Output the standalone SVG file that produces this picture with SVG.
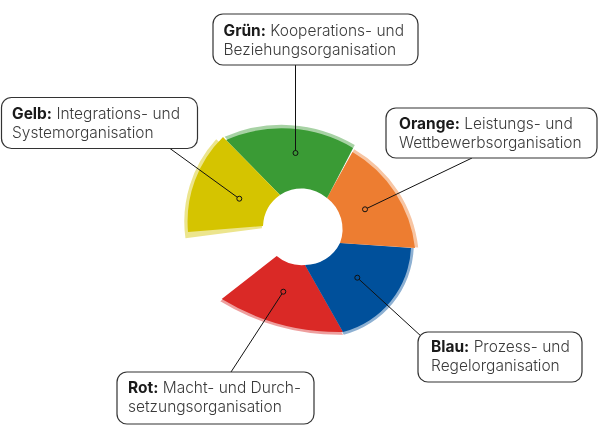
<svg xmlns="http://www.w3.org/2000/svg" xmlns:xlink="http://www.w3.org/1999/xlink" width="600" height="431" viewBox="0 0 600 431">
  <style>
    .box { fill: #ffffff; stroke: #333333; stroke-width: 1.2; }
    .lbl { font-family: Inter, "Liberation Sans", sans-serif; font-size: 15.5px; fill: #3a3a3a; font-weight: 300; }
    .lbl .b { font-weight: 700; fill: #1a1a1a; }
    .conn { stroke: #111111; stroke-width: 1; fill: none; }
    .dot { stroke: #111111; stroke-width: 1; }
    .shadow { opacity: 0.45; }
  </style>
  <defs>
    <path id="p-red" d="M276.7,256 L221.7,299 A227 227 0 0 0 343,332 L305,265 A39 39 0 0 1 276.7,256 Z"/>
    <path id="p-blue" d="M340,243 L411,248 A91 91 0 0 1 343,332 L305,265 A39 39 0 0 0 340,243 Z"/>
    <path id="p-orange" d="M352.5,152 A128 128 0 0 1 415,248 L340,243 A39 39 0 0 0 327,198 Z"/>
    <path id="p-green" d="M280,195 L226,140 A139 139 0 0 1 353,148 L327,198 A39 39 0 0 0 280,195 Z"/>
    <path id="p-yellow" d="M223,137 A119 119 0 0 0 188,232 L263,226 A40 40 0 0 1 280,195 Z"/>
  </defs>

  <g id="shadows" class="shadow">
    <use xlink:href="#p-red" fill="#DA2926" transform="matrix(1.012,0,0,1.012,-4.08,-1.26)"/>
    <use xlink:href="#p-blue" fill="#00509B" transform="matrix(1.03,0,0,1.03,-9.57,-7.32)"/>
    <use xlink:href="#p-orange" fill="#ED7D31" transform="matrix(1.025,0,0,1.025,-7.18,-6.58)"/>
    <use xlink:href="#p-green" fill="#3A9B35" transform="matrix(1.025,0,0,1.025,-7.05,-6.7)"/>
    <use xlink:href="#p-yellow" fill="#D5C400" transform="rotate(-3 303 228) translate(305 224) scale(1.025) translate(-305 -224)"/>
  </g>

  <g id="segments">
    <use id="seg-red" xlink:href="#p-red" fill="#DA2926"/>
    <use id="seg-blue" xlink:href="#p-blue" fill="#00509B"/>
    <use id="seg-orange" xlink:href="#p-orange" fill="#ED7D31"/>
    <use id="seg-green" xlink:href="#p-green" fill="#3A9B35"/>
    <use id="seg-yellow" xlink:href="#p-yellow" fill="#D5C400"/>
  </g>

  <g id="connectors">
    <line class="conn" x1="239.3" y1="198.7" x2="170" y2="148.5"/>
    <line class="conn" x1="295.5" y1="153" x2="295.5" y2="65"/>
    <line class="conn" x1="365" y1="209.3" x2="472" y2="158"/>
    <line class="conn" x1="357.3" y1="277.7" x2="422" y2="337"/>
    <line class="conn" x1="283.3" y1="291.7" x2="231" y2="372"/>
    <circle class="dot" cx="239.3" cy="198.7" r="2.5" fill="#D5C400"/>
    <circle class="dot" cx="295.5" cy="153" r="2.5" fill="#3A9B35"/>
    <circle class="dot" cx="365" cy="209.3" r="2.5" fill="#ED7D31"/>
    <circle class="dot" cx="357.3" cy="277.7" r="2.5" fill="#00509B"/>
    <circle class="dot" cx="283.3" cy="291.7" r="2.5" fill="#DA2926"/>
  </g>

  <g id="node-gelb">
    <rect class="box" x="1.5" y="97.5" width="196" height="51" rx="10"/>
    <text class="lbl" x="12" y="118.5"><tspan class="b">Gelb:</tspan> Integrations- und</text>
    <text class="lbl" x="12" y="137.5">Systemorganisation</text>
  </g>
  <g id="node-gruen">
    <rect class="box" x="213" y="14" width="205" height="51" rx="10"/>
    <text class="lbl" x="223.5" y="36"><tspan class="b">Grün:</tspan> Kooperations- und</text>
    <text class="lbl" x="223.5" y="55">Beziehungsorganisation</text>
  </g>
  <g id="node-orange">
    <rect class="box" x="386" y="108" width="211" height="50" rx="10"/>
    <text class="lbl" x="399" y="129"><tspan class="b">Orange:</tspan> Leistungs- und</text>
    <text class="lbl" x="399" y="148">Wettbewerbsorganisation</text>
  </g>
  <g id="node-blau">
    <rect class="box" x="418" y="332" width="164" height="50" rx="10"/>
    <text class="lbl" x="431" y="352"><tspan class="b">Blau:</tspan> Prozess- und</text>
    <text class="lbl" x="431" y="371">Regelorganisation</text>
  </g>
  <g id="node-rot">
    <rect class="box" x="117" y="372" width="197" height="52" rx="10"/>
    <text class="lbl" x="128" y="393"><tspan class="b">Rot:</tspan> Macht- und Durch-</text>
    <text class="lbl" x="128" y="412">setzungsorganisation</text>
  </g>
</svg>
